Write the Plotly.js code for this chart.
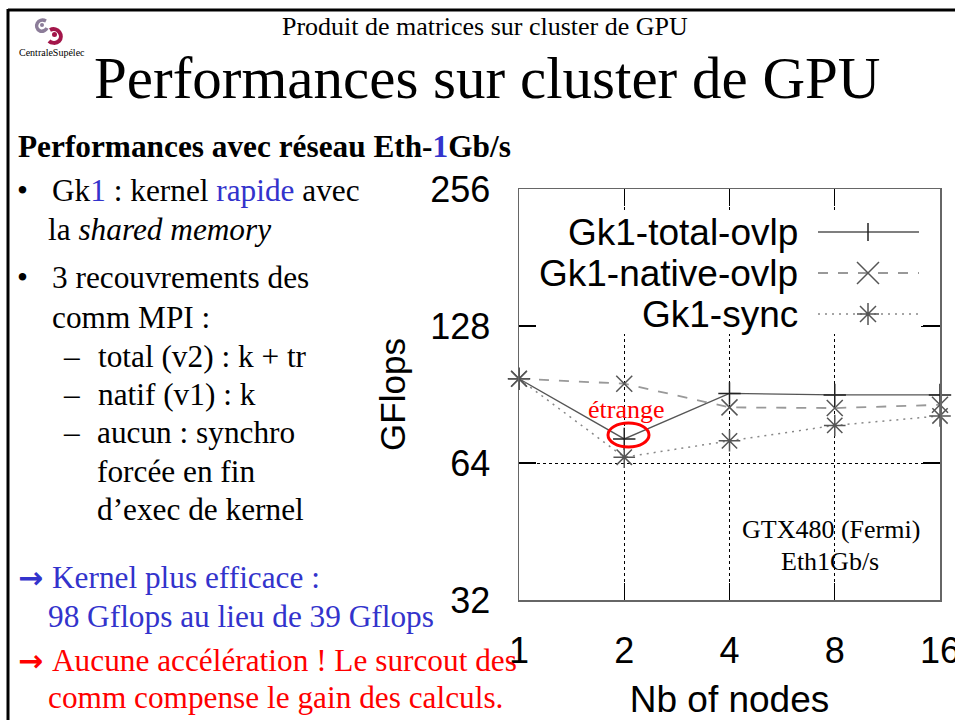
<!DOCTYPE html>
<html>
<head>
<meta charset="utf-8">
<script src="https://cdn.plot.ly/plotly-3.0.1.min.js"></script>
<style>
html,body{margin:0;padding:0;background:#fff;}
#chart{width:955px;height:720px;}
</style>
</head>
<body>
<div id="chart"></div>
<script>
// ---- data ----
var nodes = [1, 2, 4, 8, 16];
var xTickLabels = ['1', '2', '4', '8', '16'];
var gflopsTicks = [32, 64, 128, 256];
var yTickLabels = ['32', '64', '128', '256'];
var seriesNames = ['Gk1-total-ovlp', 'Gk1-native-ovlp', 'Gk1-sync'];
var totalOvlp = [98, 72.3, 91, 90.3, 90.3];
var nativeOvlp = [98, 95.6, 84.8, 84.5, 85.9];
var syncGk1 = [98, 65.9, 71.6, 77.4, 81.2];

// ---- geometry helpers (pixel -> paper) ----
var PL = 519, PR = 940, PT = 189, PB = 600;
function X(px) { return (px - PL) / (PR - PL); }
function Y(py) { return (PB - py) / (PB - PT); }
function P(px, py) { return X(px) + ',' + Y(py); }

var SERIF = 'Liberation Serif, Times New Roman, serif';
var SANS = 'Liberation Sans, Arial, sans-serif';
var BLUE = '#3333cc', RED = '#ff0000';

var annotations = [];
function A(text, px, baseline, size, opts) {
  opts = opts || {};
  var fam = opts.family || SERIF;
  var k = (fam === SANS) ? 0.3465 : 0.3375;
  var a = {
    text: text, xref: 'paper', yref: 'paper', showarrow: false,
    x: X(px), y: Y(baseline - k * size),
    xanchor: opts.anchor || 'left', yanchor: 'middle',
    align: opts.anchor === 'right' ? 'right' : 'left',
    borderpad: 0,
    font: { family: fam, size: size, color: opts.color || '#000' }
  };
  annotations.push(a);
}

// slide header
A('Produit de matrices sur cluster de GPU', 485, 35, 26, { anchor: 'center' });
A('Performances sur cluster de GPU', 487, 98, 59, { anchor: 'center' });
A('CentraleSupélec', 52, 56, 10, { anchor: 'center' });

// left text
var S = 31.3;
A('<b>Performances avec réseau Eth-<span style="color:' + BLUE + '">1</span>Gb/s</b>', 17, 157, S);
A('•', 16, 201, S);
A('Gk<span style="color:' + BLUE + '">1</span> : kernel <span style="color:' + BLUE + '">rapide</span> avec', 51, 201, S);
A('la <i>shared memory</i>', 47, 240, S);
A('•', 16, 288, S);
A('3 recouvrements des', 51, 288, S);
A('comm MPI :', 51, 328, S);
A('–', 62, 367, S);
A('total (v2) : k + tr', 97, 367, S);
A('–', 62, 405, S);
A('natif (v1) : k', 97, 405, S);
A('–', 62, 443, S);
A('aucun : synchro', 96, 443, S);
A('forcée en fin', 96, 482, S);
A('d’exec de kernel', 96, 520, S);
A('<b>→</b>', 17, 588, 30, { family: 'DejaVu Sans', color: BLUE });
A('Kernel plus efficace :', 51, 588, S, { color: BLUE });
A('98 Gflops au lieu de 39 Gflops', 47, 627, S, { color: BLUE });
A('<b>→</b>', 17, 671, 30, { family: 'DejaVu Sans', color: RED });
A('Aucune accélération ! Le surcout des', 51, 671, S, { color: RED });
A('comm compense le gain des calculs.', 47, 708, S, { color: RED });

// chart notes
A('étrange', 626, 418, 26, { anchor: 'center', color: RED });
A('GTX480 (Fermi)', 831, 538, 26, { anchor: 'center' });
A('Eth1Gb/s', 830, 570, 26, { anchor: 'center' });

// legend labels
var LS = 37;
A(seriesNames[0], 799, 245, LS, { family: SANS, anchor: 'right' });
A(seriesNames[1], 799, 286, LS, { family: SANS, anchor: 'right' });
A(seriesNames[2], 799, 327, LS, { family: SANS, anchor: 'right' });

// ---- shapes ----
function seg(x1, y1, x2, y2) { return 'M' + P(x1, y1) + 'L' + P(x2, y2); }
function plusPath(cx, cy, r) { return seg(cx - r, cy, cx + r, cy) + seg(cx, cy - r, cx, cy + r); }
function xPath(cx, cy, r) { return seg(cx - r, cy - r, cx + r, cy + r) + seg(cx - r, cy + r, cx + r, cy - r); }

var shapes = [
  // slide frame
  { type: 'line', xref: 'paper', yref: 'paper', x0: X(8), x1: X(960), y0: Y(10), y1: Y(10), line: { color: '#000', width: 3 } },
  { type: 'line', xref: 'paper', yref: 'paper', x0: X(8), x1: X(8), y0: Y(9), y1: Y(725), line: { color: '#000', width: 3 } },
  // logo
  { type: 'path', xref: 'paper', yref: 'paper', path: 'M' + P(46, 21) + 'C' + P(38, 17) + ' ' + P(33, 27) + ' ' + P(40, 31) + 'C' + P(43, 32) + ' ' + P(46, 30) + ' ' + P(47, 28),
    line: { color: '#8c7d99', width: 3.5 } },
  { type: 'circle', xref: 'paper', yref: 'paper', x0: X(40), x1: X(44), y0: Y(27), y1: Y(23), fillcolor: '#8c7d99', line: { width: 0 } },
  { type: 'path', xref: 'paper', yref: 'paper', path: 'M' + P(50, 30) + 'C' + P(58, 26) + ' ' + P(64, 36) + ' ' + P(59, 41) + 'C' + P(56, 44) + ' ' + P(51, 43) + ' ' + P(49, 41),
    line: { color: '#a3164a', width: 4 } },
  { type: 'circle', xref: 'paper', yref: 'paper', x0: X(52), x1: X(57), y0: Y(37), y1: Y(32), fillcolor: '#a3164a', line: { width: 0 } },
  // legend box (opaque)
  { type: 'rect', xref: 'paper', yref: 'paper', layer: 'above', x0: X(537), x1: X(921), y0: Y(334), y1: Y(213), fillcolor: '#fff', line: { width: 0 } },
  // legend samples
  { type: 'line', xref: 'paper', yref: 'paper', x0: X(818), x1: X(919), y0: Y(232), y1: Y(232), line: { color: '#555', width: 1.3 } },
  { type: 'path', xref: 'paper', yref: 'paper', path: seg(868, 223, 868, 241), line: { color: '#222', width: 1.5 } },
  { type: 'line', xref: 'paper', yref: 'paper', x0: X(818), x1: X(919), y0: Y(273), y1: Y(273), line: { color: '#999', width: 1.8, dash: '10px,10px' } },
  { type: 'path', xref: 'paper', yref: 'paper', path: xPath(868, 273, 11), line: { color: '#555', width: 1.5 } },
  { type: 'line', xref: 'paper', yref: 'paper', x0: X(818), x1: X(919), y0: Y(314), y1: Y(314), line: { color: '#888', width: 1.5, dash: '2px,5px' } },
  { type: 'path', xref: 'paper', yref: 'paper', path: xPath(868, 314, 8) + plusPath(868, 314, 11), line: { color: '#555', width: 1.5 } },
  // "étrange" ellipse
  { type: 'circle', xref: 'paper', yref: 'paper', layer: 'above', x0: X(608), x1: X(649), y0: Y(447), y1: Y(423), line: { color: RED, width: 3 } }
];

// ---- traces ----
var traces = [
  { x: nodes, y: totalOvlp, name: seriesNames[0], type: 'scatter', mode: 'lines+markers', cliponaxis: false,
    line: { color: '#555', width: 1.3 },
    marker: { symbol: 'cross-thin', size: 16, line: { color: '#222', width: 1.5 } } },
  { x: nodes, y: nativeOvlp, name: seriesNames[1], type: 'scatter', mode: 'lines+markers', cliponaxis: false,
    line: { color: '#999', width: 1.8, dash: '10px,10px' },
    marker: { symbol: 'x-thin', size: 16, line: { color: '#555', width: 1.5 } } },
  { x: nodes, y: syncGk1, name: seriesNames[2], type: 'scatter', mode: 'lines+markers', cliponaxis: false,
    line: { color: '#888', width: 1.5, dash: '2px,5px' },
    marker: { symbol: 'asterisk', size: 18, line: { color: '#555', width: 1.5 } } }
];

var layout = {
  width: 955, height: 720, autosize: false,
  margin: { l: PL, r: 955 - PR, t: PT, b: 720 - PB, pad: 0 },
  paper_bgcolor: '#fff', plot_bgcolor: '#fff',
  showlegend: false,
  xaxis: {
    type: 'log', range: [0, Math.log10(16)], automargin: false,
    tickvals: nodes, ticktext: xTickLabels, ticklabeloverflow: 'allow',
    ticks: 'inside', ticklen: 17, tickwidth: 1.2, tickcolor: '#000',
    showline: true, linecolor: '#666', linewidth: 1.5, mirror: 'allticks',
    showgrid: true, gridcolor: '#000', gridwidth: 1, griddash: 'dot', zeroline: false,
    tickfont: { family: SANS, size: 36, color: '#000' }, ticklabelstandoff: 18,
    title: { text: 'Nb of nodes', font: { family: SANS, size: 37, color: '#000' }, standoff: 31 }
  },
  yaxis: {
    type: 'log', range: [Math.log10(32), Math.log10(256)], automargin: false,
    tickvals: gflopsTicks, ticktext: yTickLabels, ticklabeloverflow: 'allow',
    ticks: 'inside', ticklen: 17, tickwidth: 1.2, tickcolor: '#000',
    showline: true, linecolor: '#666', linewidth: 1.5, mirror: 'allticks',
    showgrid: true, gridcolor: '#000', gridwidth: 1, griddash: 'dot', zeroline: false,
    tickfont: { family: SANS, size: 36, color: '#000' }, ticklabelstandoff: 20,
    title: { text: 'GFlops', font: { family: SANS, size: 35, color: '#000' }, standoff: 14 }
  },
  annotations: annotations,
  shapes: shapes
};

Plotly.newPlot('chart', traces, layout, { staticPlot: true, displayModeBar: false });
</script>
</body>
</html>
